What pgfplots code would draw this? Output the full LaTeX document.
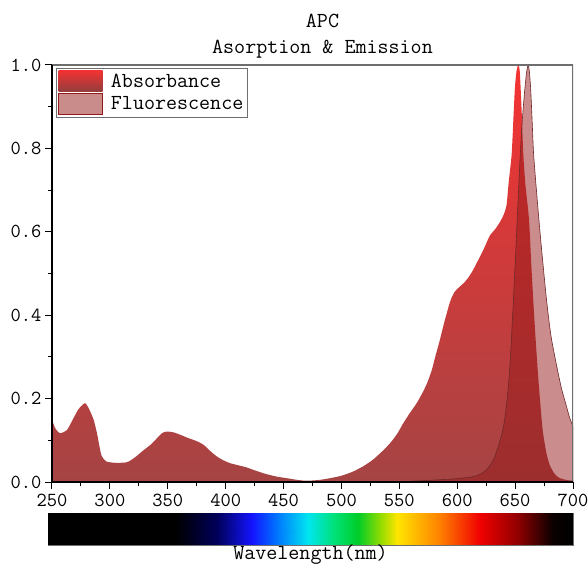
\documentclass[border=0pt]{standalone}
\usepackage{fontspec}
\usepackage{pgfplots}
\pgfplotsset{compat=1.18}
\usetikzlibrary{calc}

\definecolor{abstop}{RGB}{245,50,50}
\definecolor{absbot}{RGB}{165,68,68}
\definecolor{flfill}{RGB}{150,25,25}
\definecolor{fledge}{RGB}{110,40,40}
\definecolor{boxgray}{RGB}{110,110,110}
\newcommand\ff{\fontsize{21.5}{26}\selectfont\ttfamily}
\newcommand\tf{\fontsize{20}{23}\selectfont\ttfamily}

% absorbance spectrum
\pgfplotstableread{
nm   a
250 0.149
253 0.128
257 0.117
263 0.125
268 0.150
273 0.175
278.5 0.189
282 0.175
286 0.149
289 0.115
291 0.085
293 0.062
297 0.049
305 0.046
314 0.047
318 0.052
323 0.062
329 0.076
335 0.089
340 0.103
345 0.117
349 0.121
355 0.119
361 0.113
368 0.105
375 0.098
381 0.089
386 0.076
392 0.062
398 0.052
404 0.045
411 0.040
418 0.035
426 0.027
435 0.019
444 0.013
453 0.009
462 0.005
470 0.003
481 0.005
490 0.009
500 0.015
510 0.025
519 0.038
527 0.053
535 0.073
542 0.093
548 0.115
553 0.139
559 0.165
565 0.189
570 0.214
574 0.237
578 0.268
581 0.300
584 0.330
586.5 0.357
589 0.385
591 0.405
593 0.425
595 0.441
598 0.457
602 0.468
606 0.478
609.5 0.490
613 0.505
617 0.526
622.5 0.556
628 0.590
633 0.607
637 0.624
640 0.640
642.6 0.664
644.5 0.720
647 0.785
648.5 0.870
649.8 0.944
651.2 0.985
652.7 1.000
654 0.985
655.5 0.90
657 0.79
659 0.71
662 0.63
664 0.52
666 0.42
668 0.33
670 0.25
672 0.18
674 0.12
677 0.07
680 0.04
684 0.02
688 0.01
694 0.005
700 0.003
}\absdata

% fluorescence spectrum
\pgfplotstableread{
nm   f
560 0.002
576 0.004
600 0.008
614 0.013
622 0.022
628 0.038
632 0.058
636 0.090
640 0.133
643 0.195
645.5 0.277
647.5 0.38
650 0.52
652 0.64
654 0.76
656 0.86
658 0.93
659.8 0.98
661.2 1.000
662.3 0.985
663.5 0.94
664.8 0.86
666 0.785
669 0.68
672 0.584
677 0.44
681 0.35
686 0.277
690 0.225
694 0.185
697 0.155
700 0.133
}\fldata

\begin{document}
\begin{tikzpicture}
\begin{axis}[
  scale only axis,
  width=521bp, height=417bp,
  xmin=250, xmax=700, ymin=0, ymax=1,
  axis x line*=bottom, axis y line*=left,
  axis line style={black, line width=1.3bp},
  axis on top,
  xtick={250,300,...,700},
  ytick={0,0.2,...,1.0},
  minor x tick num=1, minor y tick num=1,
  tick align=outside,
  major tick length=7bp, minor tick length=4bp,
  tick style={black, line width=1bp},
  ticklabel style={font=\tf},
  /pgf/number format/assume math mode=true,
  yticklabel style={/pgf/number format/.cd, fixed, fixed zerofill, precision=1},
  xticklabel style={/pgf/number format/1000 sep={}, yshift=-2bp},
  title={APC\\Asorption \& Emission},
  title style={font=\ff, align=center, xshift=10bp, yshift=-3bp},
  legend style={at={(0.008,0.993)}, anchor=north west, draw=boxgray,
    font=\ff, inner sep=2bp, row sep=2bp, cells={anchor=west}},
]
\addplot[draw=none, smooth, tension=0.4, top color=abstop, bottom color=absbot,
  legend image code/.code={\shade[top color=abstop, bottom color=absbot!90!black] (0bp,-10bp) rectangle (44bp,11bp); \path (50bp,0bp);}]
  table[x=nm, y=a] {\absdata} \closedcycle;
\addlegendentry{Absorbance}
\addplot[draw=fledge, line width=0.6bp, smooth, tension=0.4, fill=flfill, fill opacity=0.5,
  legend image code/.code={\fill[flfill, fill opacity=0.5] (0bp,-11bp) rectangle (44bp,10bp); \path (50bp,0bp);}]
  table[x=nm, y=f] {\fldata} \closedcycle;
\addlegendentry{Fluorescence}
\draw[boxgray, line width=1.2bp] (rel axis cs:0,1) -- (rel axis cs:1,1) -- (rel axis cs:1,0);
\coordinate (O) at (rel axis cs:0,0);
\end{axis}
% visible spectrum bar under the axis
\begin{axis}[
  at={(O)}, anchor=north west, xshift=-4bp, yshift=-31bp,
  scale only axis, width=525bp, height=32bp,
  xmin=250, xmax=700, ymin=0, ymax=1,
  xtick=\empty, ytick=\empty,
  axis line style={boxgray, line width=0.8bp},
  colormap={spec}{rgb255(0pt)=(0,0,0) rgb255(110pt)=(0,0,0)
    rgb255(145pt)=(0,0,90) rgb255(175pt)=(20,20,255) rgb255(195pt)=(0,110,255)
    rgb255(223pt)=(0,230,240) rgb255(245pt)=(0,225,120) rgb255(266pt)=(0,205,40)
    rgb255(285pt)=(150,220,0) rgb255(299pt)=(255,230,0) rgb255(335pt)=(255,130,0)
    rgb255(370pt)=(240,0,0) rgb255(401pt)=(150,0,0) rgb255(433pt)=(10,0,0)
    rgb255(450pt)=(0,0,0)},
  point meta min=250, point meta max=700,
  xlabel={Wavelength(nm)}, xlabel style={font=\ff, yshift=4bp},
]
\addplot[surf, shader=interp, point meta=x] coordinates {
(250,0) (360,0) (395,0) (425,0) (445,0) (473,0) (495,0) (516,0)
(535,0) (549,0) (585,0) (620,0) (651,0) (683,0) (700,0)

(250,1) (360,1) (395,1) (425,1) (445,1) (473,1) (495,1) (516,1)
(535,1) (549,1) (585,1) (620,1) (651,1) (683,1) (700,1)
};
\end{axis}
\pgfresetboundingbox
\path ($(O)+(-52bp,-87bp)$) rectangle ($(O)+(536bp,482bp)$);
\end{tikzpicture}
\end{document}
